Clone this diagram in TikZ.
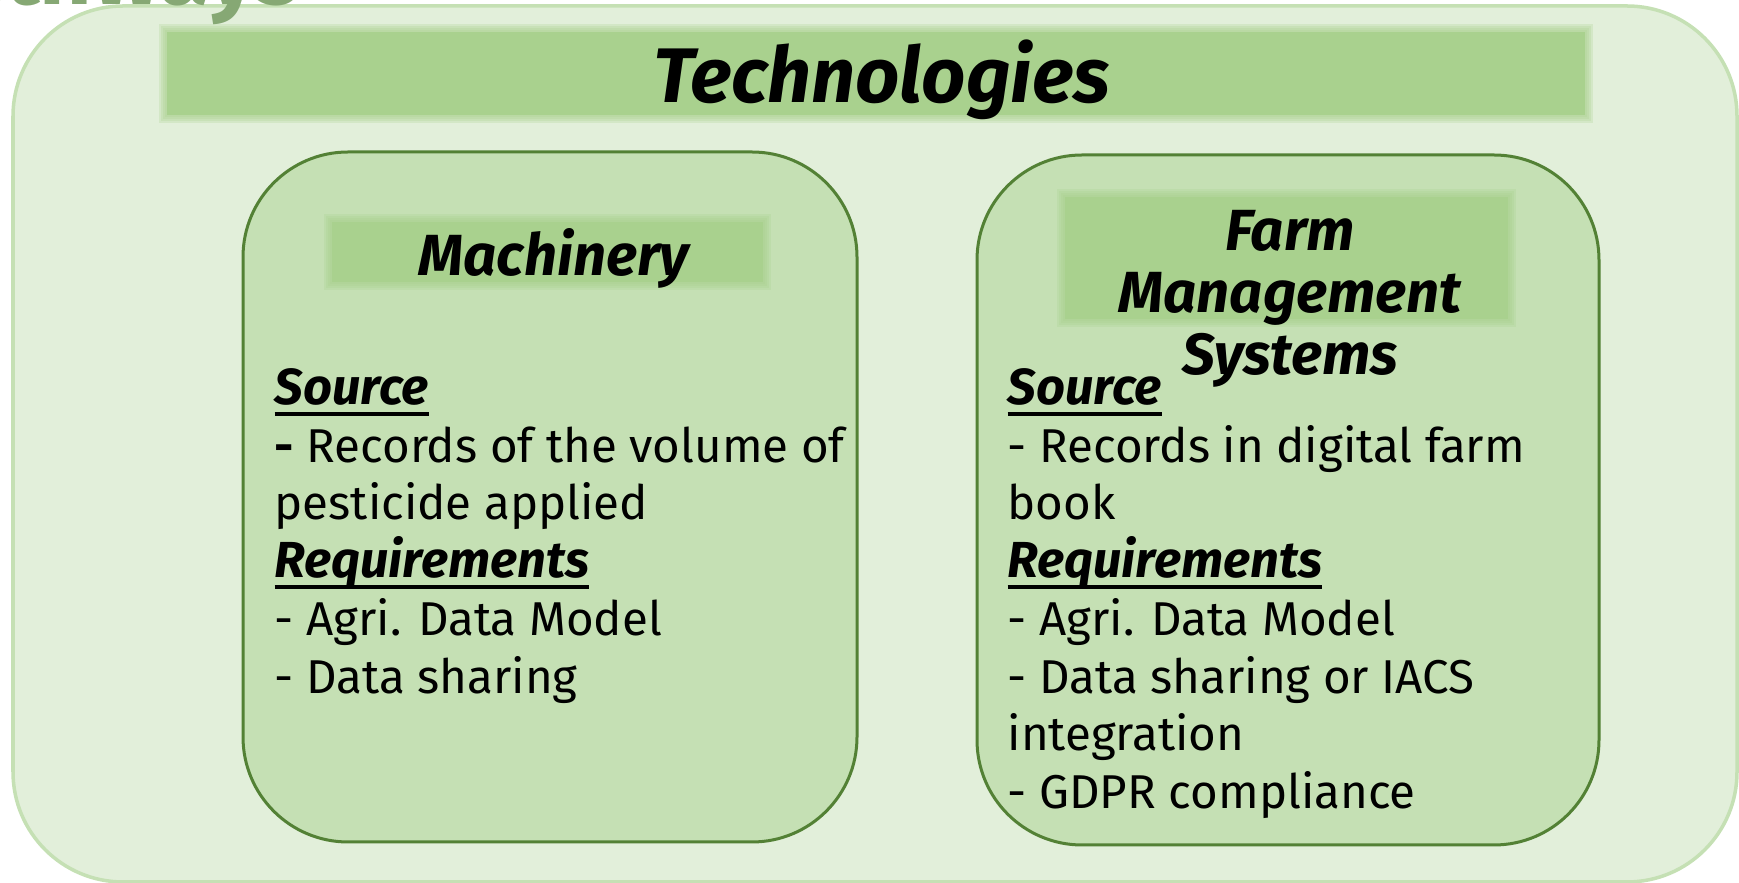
\documentclass[tikz,border=0pt]{standalone}
\usepackage{fontspec}
\setmainfont{Fira Sans}
\usetikzlibrary{positioning}

\definecolor{outerfill}{HTML}{E2EFDA}
\definecolor{outerline}{HTML}{C5E0B4}
\definecolor{panelfill}{HTML}{C5E0B4}
\definecolor{panelline}{HTML}{538135}
\definecolor{barfill}{HTML}{A9D18E}
\definecolor{waysgreen}{HTML}{86A874}

% bold italic heading with a heavy underline at a fixed depth
\newcommand{\Head}[1]{{\fontsize{14.4}{16.4}\selectfont\bfseries\itshape
  \setbox0\hbox{#1}\rlap{\rule[-0.22em]{\wd0}{0.075em}}\box0}}

\tikzset{
    outer/.style={fill=outerfill, draw=outerline, line width=0.35mm, rounded corners=1.1cm},
    panel/.style={fill=panelfill, draw=panelline, line width=0.3mm, rounded corners=1.05cm},
    title/.style={font=\fontsize{#1}{17.6}\selectfont\bfseries\itshape, align=center, inner sep=0pt},
    body/.style={font=\fontsize{13.5}{16.4}\selectfont, align=left, inner sep=0pt, anchor=north west},
}

\begin{document}
\begin{tikzpicture}[x=0.01cm, y=-0.01cm]
    \useasboundingbox (0,0) rectangle (1739,883);

    % outer frame and the heading that runs off the top
    \draw[outer] (13,6) rectangle (1737,882);
    \node[font=\fontsize{26}{30}\selectfont\bfseries, text=waysgreen, anchor=base east, inner sep=0pt] (ways) at (300,5) {Pathways};

    % the two panels
    \draw[panel] (243,152) rectangle (857,842);
    \draw[panel] (977,155) rectangle (1599,845);

    % soft-edged title bars
    \foreach \xa/\ya/\xb/\yb in {163/28/1589/119, 328/218/767/286, 1061/193/1512/323} {
      \foreach \s in {4,2,0,-2}
        \fill[barfill, opacity=0.25] (\xa-\s,\ya-\s) rectangle (\xb+\s,\yb+\s);
      \fill[barfill] (\xa+4,\ya+4) rectangle (\xb-4,\yb-4);
    }
    \node[title=22, anchor=base] (tech) at (882,103) {Technologies};

    % Machinery
    \node[title=16.5, anchor=base] (mach) at (554,276) {Machinery};
    \node[body] (machtxt) at (274,368) {%
      \Head{Source}\\
      \textbf{-} Records of the volume of\\
      pesticide applied\\
      \Head{Requirements}\\
      - Agri. Data Model\\
      - Data sharing};

    % Farm Management Systems
    \node[title=16.5, anchor=north] (fms) at (1290,210) {Farm\\Management\\Systems};
    \node[body] (fmstxt) at (1007,368) {%
      \Head{Source}\\
      - Records in digital farm\\
      book\\
      \Head{Requirements}\\
      - Agri. Data Model\\
      - Data sharing or IACS\\
      integration\\
      - GDPR compliance};
\end{tikzpicture}
\end{document}
